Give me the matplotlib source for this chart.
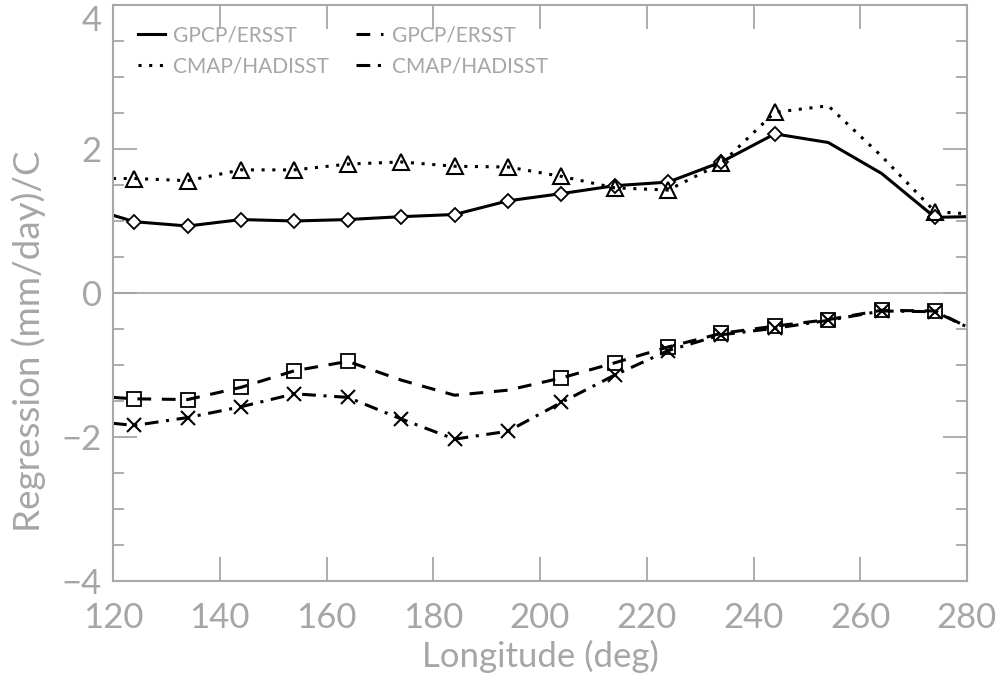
import numpy as np
import matplotlib.pyplot as plt
from matplotlib.ticker import MultipleLocator

# Longitudes of the grid points (line ends at the plot edges have no symbol)
lon = [120, 124, 134, 144, 154, 164, 174, 184, 194, 204, 214, 224, 234, 244, 254, 264, 274, 280]

gpcp_ersst_a = [1.08, 0.99, 0.93, 1.02, 1.00, 1.02, 1.06, 1.09, 1.28, 1.38, 1.49, 1.54, 1.82, 2.21, 2.09, 1.66, 1.05, 1.06]
cmap_hadisst_a = [1.59, 1.59, 1.56, 1.71, 1.71, 1.79, 1.82, 1.76, 1.75, 1.62, 1.46, 1.43, 1.80, 2.51, 2.60, 1.90, 1.13, 1.10]
gpcp_ersst_b = [-1.45, -1.47, -1.48, -1.31, -1.08, -0.95, -1.21, -1.42, -1.35, -1.18, -0.97, -0.75, -0.56, -0.46, -0.37, -0.24, -0.25, -0.47]
cmap_hadisst_b = [-1.81, -1.84, -1.73, -1.58, -1.40, -1.45, -1.75, -2.03, -1.92, -1.52, -1.14, -0.80, -0.58, -0.49, -0.38, -0.25, -0.26, -0.47]

yticks = [-4, -2, 0, 2, 4]
ytick_labels = ['\u22124', '\u22122', '0', '2', '4']

# which points carry a symbol
mark_a = list(range(1, 14)) + [16]
mark_b = [1, 2, 3, 4, 5] + list(range(9, 17))
mark_c = list(range(1, 17))

grey = '#a6a6a6'
plt.rcParams['font.family'] = ['Lato', 'DejaVu Sans']

fig = plt.figure(figsize=(10, 6.74), dpi=100)
ax = fig.add_axes([0.113, 0.138, 0.854, 0.8546])

ax.axhline(0, color='#b0b0b0', lw=1.5, zorder=1)

ax.plot(lon, gpcp_ersst_a, color='black', lw=2.2, ls='-', marker='D', ms=7.5,
        mfc='white', mec='black', mew=1.3, markevery=mark_a, label='GPCP/ERSST')
ax.plot(lon, cmap_hadisst_a, color='black', lw=2.2, ls=(0, (1, 2.5)), marker='^', ms=11,
        mfc='none', mec='black', mew=1.5, markevery=mark_a, label='CMAP/HADISST')
ax.plot(lon, gpcp_ersst_b, color='black', lw=2.2, ls=(0, (4.5, 3.5)), marker='s', ms=10,
        mfc='none', mec='black', mew=1.3, markevery=mark_b, label='GPCP/ERSST')
ax.plot(lon, cmap_hadisst_b, color='black', lw=2.2, ls=(0, (4.5, 2.5, 1, 2.5)), marker='x', ms=10,
        mec='black', mew=1.5, markevery=mark_c, label='CMAP/HADISST')

ax.set_xlim(120, 280)
ax.set_ylim(-4, 4)
ax.xaxis.set_major_locator(MultipleLocator(20))
ax.set_yticks(yticks)
ax.set_yticklabels(ytick_labels)
ax.yaxis.set_minor_locator(MultipleLocator(0.5))

for s in ax.spines.values():
    s.set_color('#a8a8a8')
    s.set_linewidth(1.5)
ax.tick_params(which='both', direction='in', top=True, right=True, color='#a0a0a0',
               width=1.2, labelcolor=grey, labelsize=25)
ax.tick_params(which='major', length=17)
ax.tick_params(axis='x', which='major', pad=15)
ax.tick_params(axis='y', which='major', pad=8)
ax.tick_params(which='minor', length=8)
# keep the top label inside the figure
ax.get_yticklabels()[-1].set_verticalalignment('top')

ax.set_xlabel('Longitude (deg)', color=grey, fontsize=25, labelpad=4)
fig.text(0.029, 0.494, 'Regression (mm/day)/C', color=grey, fontsize=26.5,
         rotation=90, ha='center', va='center', rotation_mode='anchor')

handles, labels = ax.get_legend_handles_labels()
leg = ax.legend(handles, labels, ncol=2, loc='upper left', frameon=False,
                prop={'size': 15}, borderpad=0.2,
                handlelength=1.3, handletextpad=0.4, columnspacing=1.3,
                labelspacing=0.55, bbox_to_anchor=(0.012, 0.99))
for h in leg.legend_handles:
    h.set_marker('')
for t in leg.get_texts():
    t.set_color(grey)

fig.savefig('out.png', dpi=100)
